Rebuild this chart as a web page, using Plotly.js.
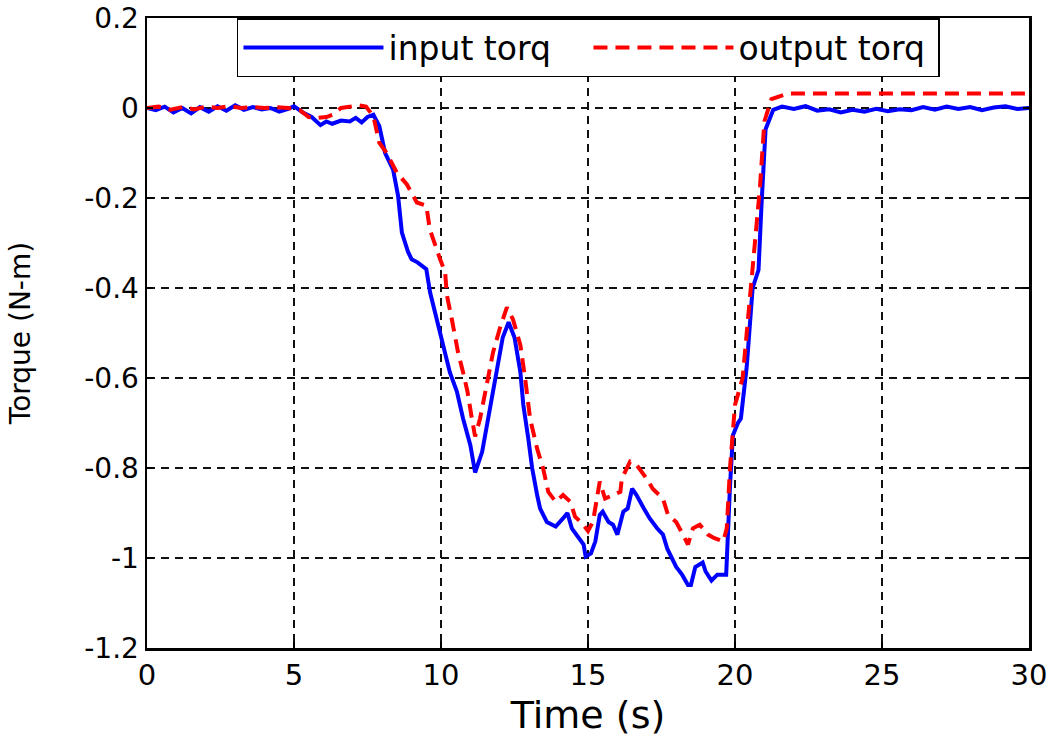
<!DOCTYPE html>
<html>
<head>
<meta charset="utf-8">
<script src="https://cdn.plot.ly/plotly-3.0.1.min.js"></script>
<style>
  html, body { margin: 0; padding: 0; background: #fff; }
  #chart { width: 1050px; height: 750px; }
</style>
</head>
<body>
<div id="chart"></div>
<script>
// input torque (blue)
var tIn = [0, 0.3, 0.6, 0.9, 1.2, 1.5, 1.8, 2.1, 2.4, 2.7, 3.0, 3.3, 3.6, 3.9, 4.2, 4.5, 4.8, 5.0,
  5.3, 5.6, 5.9, 6.1, 6.3, 6.6, 6.9, 7.1, 7.3, 7.5, 7.7, 7.9, 8.1, 8.37, 8.54, 8.67, 8.88, 9.0,
  9.2, 9.5, 9.63, 9.86, 10.07, 10.3, 10.54, 10.75, 11.0, 11.16, 11.4, 11.6, 11.8, 11.94, 12.1,
  12.3, 12.5, 12.7, 12.8, 12.97, 13.1, 13.27, 13.37, 13.6, 13.9, 14.15, 14.3, 14.45, 14.6,
  14.85, 14.92, 15.1, 15.25, 15.4, 15.5, 15.7, 15.85, 16.0, 16.2, 16.35, 16.5, 16.65, 16.9,
  17.1, 17.35, 17.55, 17.7, 17.85, 18.0, 18.2, 18.4, 18.5, 18.65, 18.9, 19.0, 19.2, 19.4, 19.7,
  19.75, 19.83, 19.93, 20.1, 20.2, 20.4, 20.6, 20.8, 20.9, 21.04, 21.3, 21.6, 22.0, 22.4, 22.8,
  23.2, 23.6, 24.0, 24.4, 24.8, 25.2, 25.6, 26.0, 26.4, 26.8, 27.2, 27.6, 28.0, 28.4, 28.8,
  29.2, 29.6, 30];
var torqIn = [0, -0.005, 0.003, -0.01, 0, -0.012, 0.002, -0.008, 0.004, -0.006, 0.006, -0.004,
  0.002, -0.003, 0, -0.008, -0.002, 0.004, -0.01, -0.02, -0.038, -0.03, -0.035, -0.028, -0.03,
  -0.022, -0.032, -0.02, -0.015, -0.04, -0.1, -0.137, -0.195, -0.277, -0.32, -0.336, -0.343,
  -0.358, -0.41, -0.47, -0.53, -0.587, -0.63, -0.69, -0.75, -0.81, -0.764, -0.69, -0.617,
  -0.557, -0.51, -0.476, -0.51, -0.587, -0.66, -0.735, -0.8, -0.86, -0.89, -0.92, -0.93,
  -0.912, -0.9, -0.934, -0.948, -0.97, -0.997, -0.99, -0.963, -0.904, -0.897, -0.92, -0.926,
  -0.948, -0.897, -0.89, -0.846, -0.86, -0.89, -0.912, -0.934, -0.948, -0.98, -1.0, -1.02,
  -1.037, -1.06, -1.06, -1.02, -1.01, -1.03, -1.05, -1.037, -1.037, -0.95, -0.84, -0.727,
  -0.7, -0.69, -0.574, -0.4, -0.36, -0.217, -0.047, -0.004, 0.003, -0.002, 0.004, -0.006,
  -0.003, -0.01, -0.004, -0.008, -0.002, -0.007, -0.003, -0.005, 0.002, -0.004, 0.003,
  -0.002, 0.002, -0.005, 0.001, 0.004, -0.002, 0];

// output torque (red dashed)
var tOut = [0, 0.4, 0.8, 1.2, 1.6, 2.0, 2.4, 2.8, 3.2, 3.6, 4.0, 4.4, 4.8, 5.2, 5.5, 5.8, 6.1,
  6.3, 6.6, 6.9, 7.2, 7.45, 7.7, 7.9, 8.15, 8.5, 8.84, 9.18, 9.5, 9.62, 9.8, 9.97, 10.14, 10.2,
  10.37, 10.58, 10.75, 10.9, 11.05, 11.16, 11.33, 11.56, 11.77, 12.0, 12.24, 12.45, 12.7,
  12.86, 13.03, 13.27, 13.47, 13.65, 13.9, 14.15, 14.4, 14.56, 14.8, 15.0, 15.17, 15.4, 15.58,
  15.85, 16.1, 16.15, 16.43, 16.65, 17.0, 17.2, 17.55, 17.72, 18.0, 18.23, 18.4, 18.57, 18.8,
  19.08, 19.3, 19.6, 19.72, 19.83, 19.93, 20.0, 20.26, 20.5, 20.7, 20.85, 21.0, 21.24, 21.8, 30];
var torqOut = [0, 0.003, -0.004, 0.002, -0.003, 0.003, 0, 0.004, 0, 0.002, 0, 0.002, 0, -0.005,
  -0.02, -0.022, -0.02, -0.015, 0, 0.004, 0.006, 0.003, -0.018, -0.077, -0.1, -0.144, -0.17,
  -0.21, -0.217, -0.27, -0.306, -0.336, -0.365, -0.416, -0.47, -0.543, -0.587, -0.63, -0.69,
  -0.73, -0.69, -0.617, -0.543, -0.49, -0.443, -0.47, -0.527, -0.6, -0.69, -0.757, -0.8,
  -0.853, -0.875, -0.86, -0.875, -0.908, -0.923, -0.94, -0.919, -0.83, -0.868, -0.86, -0.853,
  -0.824, -0.786, -0.793, -0.824, -0.846, -0.868, -0.904, -0.92, -0.948, -0.97, -0.934,
  -0.926, -0.948, -0.956, -0.963, -0.934, -0.8, -0.7, -0.66, -0.6, -0.43, -0.3, -0.175,
  -0.03, 0.02, 0.032, 0.032];

var xTicks = [0, 5, 10, 15, 20, 25, 30];
var yTicks = [0.2, 0, -0.2, -0.4, -0.6, -0.8, -1, -1.2];
var yTickText = ['0.2', '0', '-0.2', '-0.4', '-0.6', '-0.8', '-1', '-1.2'];

var traceIn = {
  x: tIn,
  y: torqIn,
  type: 'scatter',
  mode: 'lines',
  name: 'input torq',
  line: { color: '#0000ff', width: 4 }
};

var traceOut = {
  x: tOut,
  y: torqOut,
  type: 'scatter',
  mode: 'lines',
  name: 'output torq',
  line: { color: '#ff0000', width: 4, dash: '14px,8px' }
};

var layout = {
  width: 1050,
  height: 750,
  margin: { l: 147, r: 21, t: 18, b: 102 },
  paper_bgcolor: '#fff',
  plot_bgcolor: '#fff',
  font: { family: 'DejaVu Sans, sans-serif', color: '#000' },
  showlegend: true,
  legend: {
    orientation: 'h',
    x: 0.102, y: 1, xanchor: 'left', yanchor: 'top',
    bgcolor: '#fff', bordercolor: '#000', borderwidth: 1.5,
    font: { size: 33, color: '#000' },
    itemwidth: 140,
    entrywidth: 195
  },
  xaxis: {
    range: [0, 30],
    tickvals: xTicks,
    ticks: 'inside', ticklen: 6, tickwidth: 1.5, tickcolor: '#000',
    showline: true, linecolor: '#000', linewidth: 2.5, mirror: 'ticks',
    showgrid: true, gridcolor: '#111', gridwidth: 2, griddash: '8px,6px',
    zeroline: false,
    ticklabeloverflow: 'allow',
    tickfont: { size: 29 },
    title: { text: 'Time (s)', font: { size: 38 }, standoff: 10 }
  },
  yaxis: {
    range: [-1.2, 0.2],
    tickvals: yTicks,
    ticktext: yTickText,
    ticks: 'inside', ticklen: 6, tickwidth: 1.5, tickcolor: '#000',
    showline: true, linecolor: '#000', linewidth: 2.5, mirror: 'ticks',
    showgrid: true, gridcolor: '#111', gridwidth: 2, griddash: '8px,6px',
    zeroline: false,
    ticklabeloverflow: 'allow',
    tickfont: { size: 28 },
    title: { text: 'Torque (N-m)', font: { size: 28 }, standoff: 46 }
  }
};

Plotly.newPlot('chart', [traceIn, traceOut], layout, { displayModeBar: false, staticPlot: true });
</script>
</body>
</html>
